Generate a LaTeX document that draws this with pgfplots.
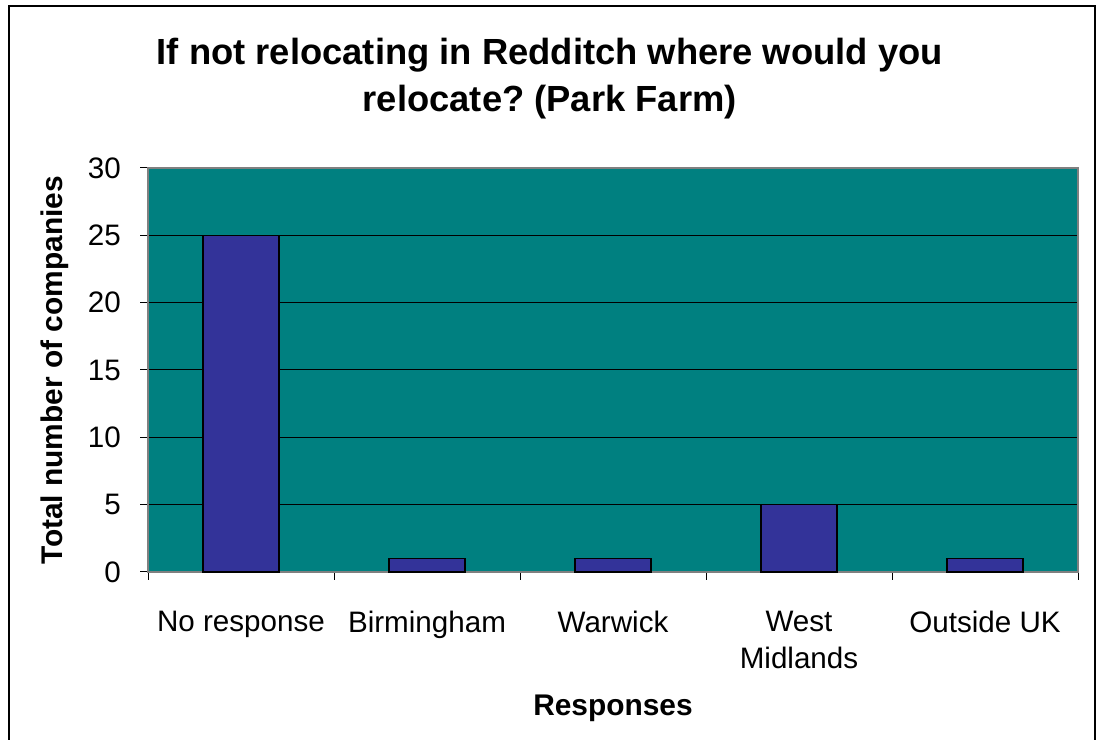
\documentclass[border=0pt]{standalone}
\usepackage{fontspec}
\setmainfont{Liberation Sans}
\usepackage{pgfplots}
\pgfplotsset{compat=1.18}
\definecolor{plotbg}{RGB}{0,128,128}
\definecolor{barcol}{RGB}{51,51,153}
\definecolor{bordergray}{RGB}{128,128,128}
\begin{document}
\frenchspacing
\begin{tikzpicture}[x=1bp,y=1bp]
\useasboundingbox (0,0) rectangle (1100,740);
\fill[white] (0,0) rectangle (1100,740);
\draw[line width=1.3bp] (9,0) -- (9,734) -- (1095,734) -- (1095,0);
\begin{axis}[
  at={(148bp,168bp)}, anchor=south west,
  scale only axis, width=930bp, height=404bp,
  xmin=-0.5, xmax=4.5, ymin=0, ymax=30,
  axis background/.style={fill=plotbg},
  axis line style={draw=bordergray, line width=1.5bp},
  ybar, bar width=76bp,
  xtick pos=left, ytick pos=left,
  xtick={0,1,2,3,4},
  xticklabels={No response, Birmingham, Warwick, {West\\Midlands}, Outside UK},
  x tick label style={align=center, anchor=north, inner sep=0pt, yshift=-31bp},
  major x tick style={draw=none},
  minor xtick={-0.5,0.5,1.5,2.5,3.5,4.5},
  minor x tick style={draw=black, line width=1bp},
  minor tick length=8bp,
  ytick={0,5,10,15,20,25,30},
  y tick style={draw=black, line width=1bp},
  major tick length=8bp,
  tick align=outside,
  ymajorgrids,
  major grid style={draw=black, line width=1bp},
  y tick label style={anchor=east, inner sep=0pt, xshift=-19bp},
  tick label style={font=\fontsize{29.7}{37}\selectfont},
  /pgf/number format/assume math mode=true,
  xlabel={Responses},
  ylabel={Total number of companies},
  label style={font=\fontsize{30}{35}\selectfont\bfseries},
  xlabel style={at={(axis description cs:0.5,-0.356)}, anchor=base},
  ylabel style={at={(axis description cs:-0.1,0.5)}, anchor=center, rotate=0},
  title={If not relocating in Redditch where would you\\relocate? (Park Farm)},
  title style={at={(axis description cs:0.432,1.306)}, anchor=north, inner sep=0pt, align=center, font=\fontsize{36.5}{47}\selectfont\bfseries},
  clip=false,
]
\addplot[fill=barcol, draw=black, line width=1.3bp] coordinates {(0,25) (1,1) (2,1) (3,5) (4,1)};
\end{axis}
\end{tikzpicture}
\end{document}
